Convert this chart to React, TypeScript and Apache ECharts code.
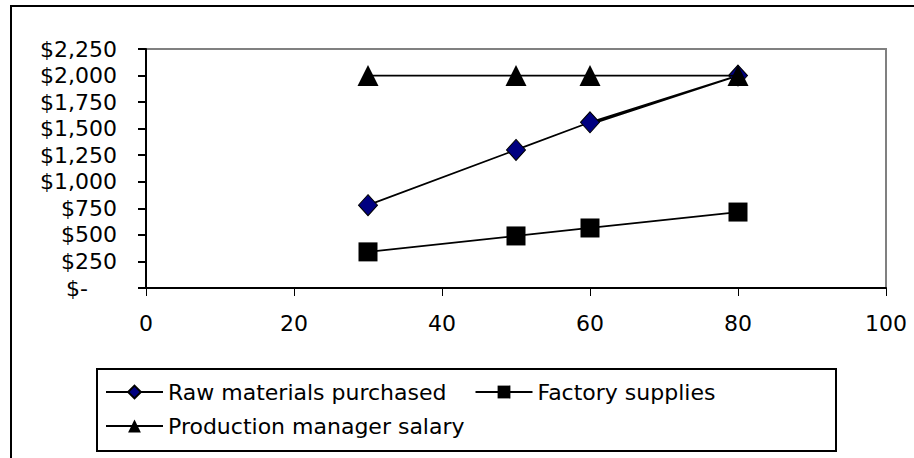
import React, { useEffect, useRef } from "react";
import * as echarts from "echarts";

const seriesNames = ["Raw materials purchased", "Factory supplies", "Production manager salary"];
const rawMaterials: [number, number][] = [[30, 780], [50, 1300], [60, 1560], [80, 2000]];
const rawMaterialsReturn: [number, number] = [60, 1540];
const factorySupplies: [number, number][] = [[30, 340], [50, 490], [60, 565], [80, 715]];
const managerSalary: [number, number][] = [[30, 2000], [50, 2000], [60, 2000], [80, 2000]];
const xTicks = { min: 0, max: 100, interval: 20 };
const yTicks = { min: 0, max: 2250, interval: 250 };

const FONT = "DejaVu Sans";
const FS = 22;

export default function App() {
  const ref = useRef<HTMLDivElement>(null);
  useEffect(() => {
    if (!ref.current) return;
    const chart = echarts.init(ref.current, null, { renderer: "svg" });
    const lineStyle = { color: "#000", width: 1.75 };
    chart.setOption({
      animation: false,
      backgroundColor: "#fff",
      grid: {
        left: 146,
        right: 28,
        top: 49,
        bottom: 170,
        show: true,
        borderColor: "#808080",
        borderWidth: 2,
        backgroundColor: "transparent",
      },
      xAxis: {
        type: "value",
        min: xTicks.min,
        max: xTicks.max,
        interval: xTicks.interval,
        axisLine: { show: true, onZero: false, lineStyle: { color: "#000", width: 2 } },
        axisTick: { show: true, inside: false, length: 8, lineStyle: { color: "#000", width: 1 } },
        splitLine: { show: false },
        axisLabel: { color: "#000", fontFamily: FONT, fontSize: FS, margin: 24 },
      },
      yAxis: {
        type: "value",
        min: yTicks.min,
        max: yTicks.max,
        interval: yTicks.interval,
        axisLine: { show: true, onZero: false, lineStyle: { color: "#000", width: 2 } },
        axisTick: { show: true, inside: false, length: 8, lineStyle: { color: "#000", width: 2 } },
        splitLine: { show: false },
        axisLabel: {
          color: "#000",
          fontFamily: FONT,
          fontSize: FS,
          margin: 29,
          formatter: (v: number) =>
            v === 0 ? "{z|$-}" : "$" + v.toLocaleString("en-US"),
          rich: {
            z: { color: "#000", fontFamily: FONT, fontSize: FS, padding: [0, 29, 0, 0] },
          },
        },
      },
      legend: [
        {
          data: [seriesNames[0], seriesNames[1]],
          left: 105,
          top: 380,
          padding: 0,
          itemWidth: 57,
          itemHeight: 16,
          itemGap: 28,
          textStyle: { color: "#000", fontFamily: FONT, fontSize: FS, lineHeight: 24 },
        },
        {
          data: [seriesNames[2]],
          left: 105,
          top: 414,
          padding: 0,
          itemWidth: 57,
          itemHeight: 16,
          itemGap: 28,
          textStyle: { color: "#000", fontFamily: FONT, fontSize: FS, lineHeight: 24 },
        },
      ],
      graphic: [
        {
          type: "rect",
          shape: { x: 11, y: 6, width: 1000, height: 1000 },
          style: { fill: "none", stroke: "#000", lineWidth: 2 },
          silent: true,
        },
        {
          type: "rect",
          shape: { x: 97, y: 369, width: 739, height: 82 },
          style: { fill: "none", stroke: "#000", lineWidth: 2 },
          silent: true,
        },
      ],
      series: [
        {
          name: seriesNames[0],
          type: "line",
          data: [...rawMaterials, { value: rawMaterialsReturn, symbol: "none" }],
          symbol: "diamond",
          symbolSize: [19, 21],
          itemStyle: { color: "#000080", borderColor: "#000", borderWidth: 1 },
          lineStyle,
          z: 2,
        },
        {
          name: seriesNames[1],
          type: "line",
          data: factorySupplies,
          symbol: "rect",
          symbolSize: 19,
          itemStyle: { color: "#000", borderColor: "#000", borderWidth: 0 },
          lineStyle,
          z: 3,
        },
        {
          name: seriesNames[2],
          type: "line",
          data: managerSalary,
          symbol: "triangle",
          symbolSize: 21,
          itemStyle: { color: "#000", borderColor: "#000", borderWidth: 0 },
          lineStyle,
          z: 4,
        },
      ],
    });
    return () => chart.dispose();
  }, []);
  return (
    <div
      ref={ref}
      style={{ position: "fixed", left: 0, top: 0, width: 914, height: 458, background: "#fff" }}
    />
  );
}
